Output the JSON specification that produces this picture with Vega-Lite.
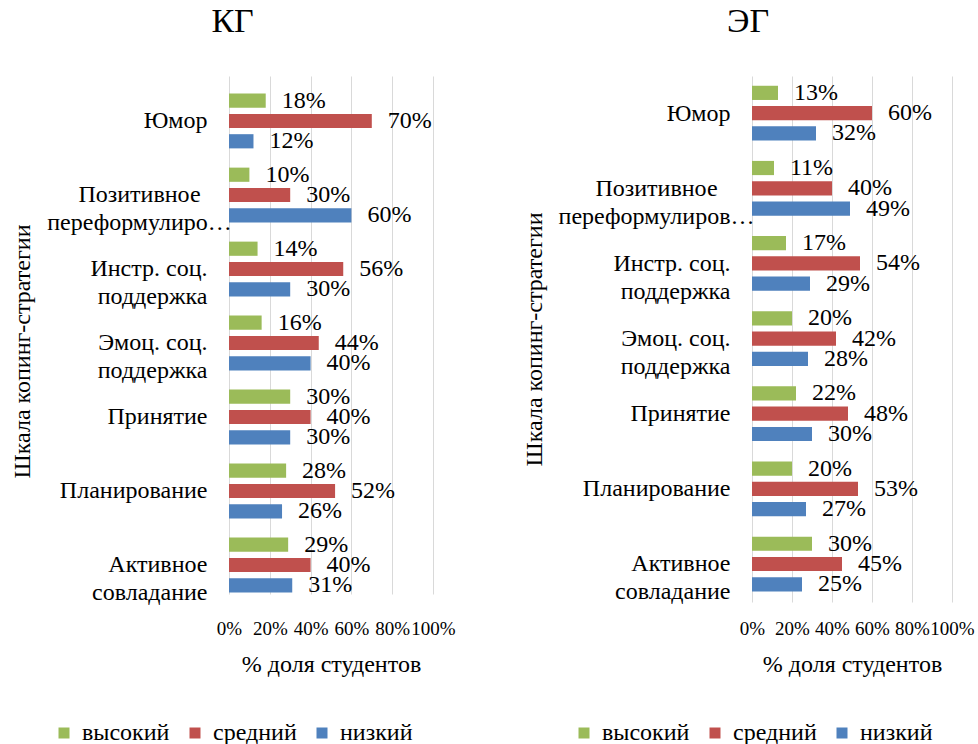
{
  "$schema": "https://vega.github.io/schema/vega-lite/v6.json",
  "background": "white",
  "padding": {"left": 9, "right": 3, "top": 5, "bottom": 0},
  "config": {
    "font": "Liberation Serif",
    "view": {"stroke": null},
    "text": {"font": "Liberation Serif"},
    "axis": {"domain": false, "ticks": false, "labelFont": "Liberation Serif", "titleFont": "Liberation Serif", "labelColor": "#000", "titleColor": "#000", "titleFontWeight": "normal"},
    "title": {"font": "Liberation Serif", "fontSize": 34, "fontWeight": "normal", "color": "#000", "anchor": "middle", "frame": "bounds", "offset": 37},
    "legend": {"orient": "none", "direction": "horizontal", "symbolType": "square", "symbolSize": 121, "symbolStrokeWidth": 0, "labelFontSize": 24, "labelFont": "Liberation Serif", "labelColor": "#000", "labelOffset": 6, "columnPadding": 13, "padding": 0, "title": null}
  },
  "datasets": {
    "kg": [
      {"strategy": "Юмор", "level": "высокий", "value": 0.18},
      {"strategy": "Юмор", "level": "средний", "value": 0.70},
      {"strategy": "Юмор", "level": "низкий", "value": 0.12},
      {"strategy": "Позитивное|переформулиро…", "level": "высокий", "value": 0.10},
      {"strategy": "Позитивное|переформулиро…", "level": "средний", "value": 0.30},
      {"strategy": "Позитивное|переформулиро…", "level": "низкий", "value": 0.60},
      {"strategy": "Инстр. соц.|поддержка", "level": "высокий", "value": 0.14},
      {"strategy": "Инстр. соц.|поддержка", "level": "средний", "value": 0.56},
      {"strategy": "Инстр. соц.|поддержка", "level": "низкий", "value": 0.30},
      {"strategy": "Эмоц. соц.|поддержка", "level": "высокий", "value": 0.16},
      {"strategy": "Эмоц. соц.|поддержка", "level": "средний", "value": 0.44},
      {"strategy": "Эмоц. соц.|поддержка", "level": "низкий", "value": 0.40},
      {"strategy": "Принятие", "level": "высокий", "value": 0.30},
      {"strategy": "Принятие", "level": "средний", "value": 0.40},
      {"strategy": "Принятие", "level": "низкий", "value": 0.30},
      {"strategy": "Планирование", "level": "высокий", "value": 0.28},
      {"strategy": "Планирование", "level": "средний", "value": 0.52},
      {"strategy": "Планирование", "level": "низкий", "value": 0.26},
      {"strategy": "Активное|совладание", "level": "высокий", "value": 0.29},
      {"strategy": "Активное|совладание", "level": "средний", "value": 0.40},
      {"strategy": "Активное|совладание", "level": "низкий", "value": 0.31}
    ],
    "eg": [
      {"strategy": "Юмор", "level": "высокий", "value": 0.13},
      {"strategy": "Юмор", "level": "средний", "value": 0.60},
      {"strategy": "Юмор", "level": "низкий", "value": 0.32},
      {"strategy": "Позитивное|переформулиров…", "level": "высокий", "value": 0.11},
      {"strategy": "Позитивное|переформулиров…", "level": "средний", "value": 0.40},
      {"strategy": "Позитивное|переформулиров…", "level": "низкий", "value": 0.49},
      {"strategy": "Инстр. соц.|поддержка", "level": "высокий", "value": 0.17},
      {"strategy": "Инстр. соц.|поддержка", "level": "средний", "value": 0.54},
      {"strategy": "Инстр. соц.|поддержка", "level": "низкий", "value": 0.29},
      {"strategy": "Эмоц. соц.|поддержка", "level": "высокий", "value": 0.20},
      {"strategy": "Эмоц. соц.|поддержка", "level": "средний", "value": 0.42},
      {"strategy": "Эмоц. соц.|поддержка", "level": "низкий", "value": 0.28},
      {"strategy": "Принятие", "level": "высокий", "value": 0.22},
      {"strategy": "Принятие", "level": "средний", "value": 0.48},
      {"strategy": "Принятие", "level": "низкий", "value": 0.30},
      {"strategy": "Планирование", "level": "высокий", "value": 0.20},
      {"strategy": "Планирование", "level": "средний", "value": 0.53},
      {"strategy": "Планирование", "level": "низкий", "value": 0.27},
      {"strategy": "Активное|совладание", "level": "высокий", "value": 0.30},
      {"strategy": "Активное|совладание", "level": "средний", "value": 0.45},
      {"strategy": "Активное|совладание", "level": "низкий", "value": 0.25}
    ]
  },
  "hconcat": [
    {
      "title": {"text": "КГ"},
      "data": {"name": "kg"},
      "width": 204,
      "height": 526,
      "encoding": {
        "y": {"field": "strategy", "type": "nominal",
              "sort": ["Юмор", "Позитивное|переформулиро…", "Инстр. соц.|поддержка", "Эмоц. соц.|поддержка", "Принятие", "Планирование", "Активное|совладание"],
              "scale": {"paddingInner": 0.26, "paddingOuter": 0.13, "range": [8, 526]},
              "axis": {"title": "Шкала копинг-стратегии", "titleFontSize": 24, "titleX": -195, "titleY": 275,
                       "labelFontSize": 24, "labelLineHeight": 28, "labelLimit": 400, "labelExpr": "split(datum.label, '|')",
                       "labelPadding": {"condition": {"test": "indexof(datum.value, 'Позитив') >= 0", "value": 90}, "value": 22},
                       "labelAlign": {"condition": {"test": "indexof(datum.value, 'Позитив') >= 0", "value": "center"}, "value": "right"}}},
        "yOffset": {"field": "level", "type": "nominal", "sort": ["высокий", "средний", "низкий"], "scale": {"paddingInner": 0.3, "paddingOuter": 0}},
        "x": {"field": "value", "type": "quantitative",
              "scale": {"domain": [0, 1]},
              "axis": {"title": "% доля студентов", "titleFontSize": 24, "titlePadding": 14, "labelFontSize": 19, "labelPadding": 17, "format": ".0%", "values": [0, 0.2, 0.4, 0.6, 0.8, 1], "grid": true, "gridColor": "#D9D9D9", "labelOverlap": false, "labelFlush": false}},
        "color": {"field": "level", "type": "nominal",
                  "scale": {"domain": ["высокий", "средний", "низкий"], "range": ["#9BBB59", "#C0504D", "#4F81BD"]},
                  "legend": {"legendX": -177, "legendY": 645}}
      },
      "layer": [
        {"mark": {"type": "bar"}},
        {"mark": {"type": "text", "align": "left", "baseline": "middle", "dx": 16, "fontSize": 24, "font": "Liberation Serif", "color": "#000"},
         "encoding": {"text": {"field": "value", "type": "quantitative", "format": ".0%"}, "color": {"value": "#000"}}}
      ]
    },
    {
      "title": {"text": "ЭГ"},
      "data": {"name": "eg"},
      "width": 200,
      "height": 526,
      "encoding": {
        "y": {"field": "strategy", "type": "nominal",
              "sort": ["Юмор", "Позитивное|переформулиров…", "Инстр. соц.|поддержка", "Эмоц. соц.|поддержка", "Принятие", "Планирование", "Активное|совладание"],
              "scale": {"paddingInner": 0.26, "paddingOuter": 0.13},
              "axis": {"title": "Шкала копинг-стратегии", "titleFontSize": 24, "titleX": -206,
                       "labelFontSize": 24, "labelLineHeight": 28, "labelLimit": 400, "labelExpr": "split(datum.label, '|')",
                       "labelPadding": {"condition": {"test": "indexof(datum.value, 'Позитив') >= 0", "value": 96}, "value": 22},
                       "labelAlign": {"condition": {"test": "indexof(datum.value, 'Позитив') >= 0", "value": "center"}, "value": "right"}}},
        "yOffset": {"field": "level", "type": "nominal", "sort": ["высокий", "средний", "низкий"], "scale": {"paddingInner": 0.3, "paddingOuter": 0}},
        "x": {"field": "value", "type": "quantitative",
              "scale": {"domain": [0, 1]},
              "axis": {"title": "% доля студентов", "titleFontSize": 24, "titlePadding": 14, "labelFontSize": 19, "labelPadding": 17, "format": ".0%", "values": [0, 0.2, 0.4, 0.6, 0.8, 1], "grid": true, "gridColor": "#D9D9D9", "labelOverlap": false, "labelFlush": false}},
        "color": {"field": "level", "type": "nominal",
                  "scale": {"domain": ["высокий", "средний", "низкий"], "range": ["#9BBB59", "#C0504D", "#4F81BD"]},
                  "legend": {"legendX": -180, "legendY": 645}}
      },
      "layer": [
        {"mark": {"type": "bar"}},
        {"mark": {"type": "text", "align": "left", "baseline": "middle", "dx": 16, "fontSize": 24, "font": "Liberation Serif", "color": "#000"},
         "encoding": {"text": {"field": "value", "type": "quantitative", "format": ".0%"}, "color": {"value": "#000"}}}
      ]
    }
  ],
  "spacing": 65,
  "resolve": {"scale": {"y": "independent", "x": "independent", "color": "independent"}, "legend": {"color": "independent"}}
}
